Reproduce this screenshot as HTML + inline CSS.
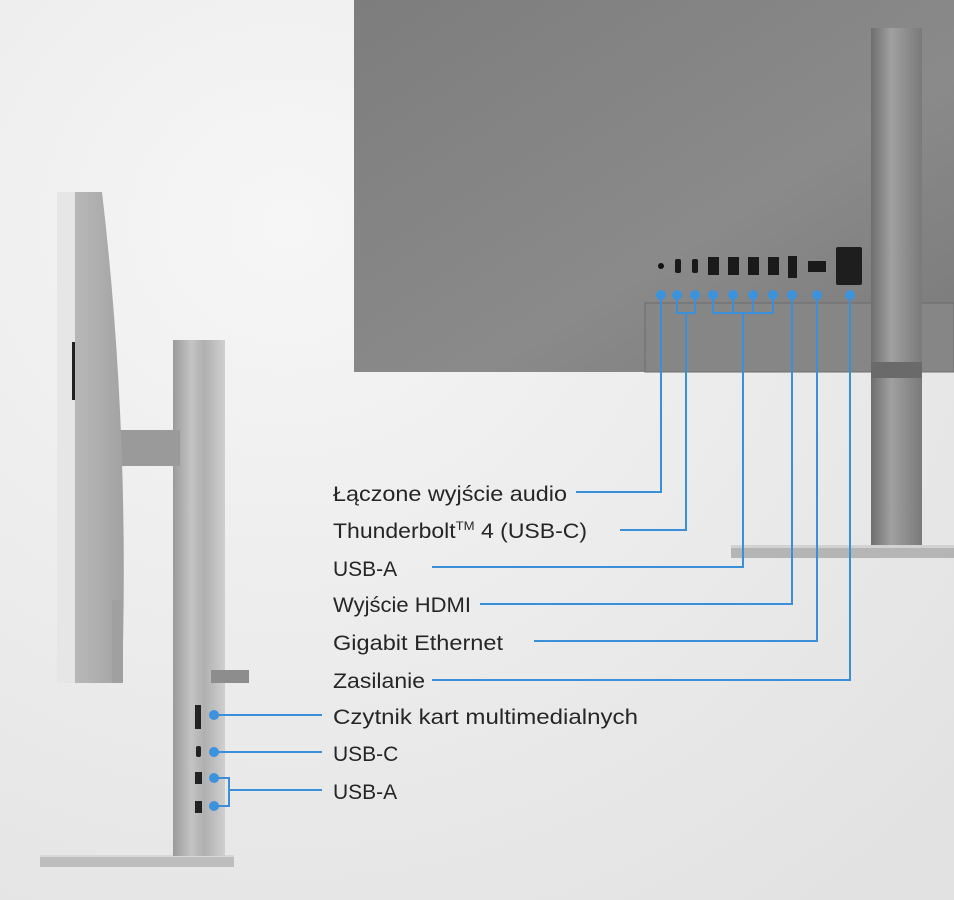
<!DOCTYPE html>
<html><head><meta charset="utf-8"><style>
html,body{margin:0;padding:0;width:954px;height:900px;overflow:hidden;background:#ececec}
svg{display:block}
text{font-family:"Liberation Sans",sans-serif;font-size:21px;fill:#262626}
</style></head><body>
<svg width="954" height="900" viewBox="0 0 954 900" xmlns="http://www.w3.org/2000/svg">
<defs>
<radialGradient id="bg" cx="0.3" cy="0.25" r="0.95"><stop offset="0" stop-color="#f6f6f6"/><stop offset="1" stop-color="#e2e2e2"/></radialGradient>
<linearGradient id="back" x1="0" y1="0" x2="1" y2="1"><stop offset="0" stop-color="#7d7d7d"/><stop offset="0.6" stop-color="#8a8a8a"/><stop offset="1" stop-color="#7a7a7a"/></linearGradient>
<linearGradient id="col" x1="0" x2="1"><stop offset="0" stop-color="#6f6f6f"/><stop offset="0.4" stop-color="#a0a0a0"/><stop offset="1" stop-color="#7a7a7a"/></linearGradient>
<linearGradient id="scol" x1="0" x2="1"><stop offset="0" stop-color="#9a9a9a"/><stop offset="0.35" stop-color="#c4c4c4"/><stop offset="0.6" stop-color="#b0b0b0"/><stop offset="1" stop-color="#cfcfcf"/></linearGradient>
<linearGradient id="panel" x1="0" x2="1"><stop offset="0" stop-color="#bdbdbd"/><stop offset="0.5" stop-color="#b2b2b2"/><stop offset="1" stop-color="#a2a2a2"/></linearGradient>
</defs>
<rect width="954" height="900" fill="url(#bg)"/>
<rect x="354" y="0" width="600" height="372" fill="url(#back)"/>
<rect x="645" y="303" width="309" height="69" fill="#868686" stroke="#6c6c6c" stroke-width="1"/>
<rect x="871" y="28" width="51" height="517" fill="url(#col)"/>
<rect x="871" y="362" width="51" height="16" fill="#6a6a6a"/>
<rect x="731" y="545" width="223" height="13" fill="#b5b5b5"/>
<rect x="731" y="545" width="223" height="3" fill="#d2d2d2"/>
<circle cx="661" cy="266" r="3" fill="#111"/>
<rect x="675" y="259" width="6" height="14" rx="2" fill="#1a1a1a"/>
<rect x="692" y="259" width="6" height="14" rx="2" fill="#1a1a1a"/>
<g fill="#1a1a1a"><rect x="708" y="257" width="11" height="18"/><rect x="728" y="257" width="11" height="18"/><rect x="748" y="257" width="11" height="18"/><rect x="768" y="257" width="11" height="18"/></g>
<path d="M788 256h9v22h-9z" fill="#1a1a1a"/>
<rect x="808" y="261" width="18" height="11" fill="#1a1a1a"/>
<rect x="836" y="247" width="26" height="38" rx="2" fill="#1e1e1e"/>
<g stroke="#3a8fd8" stroke-width="2" fill="none">
<path d="M661 295V492H576"/>
<path d="M677 295V313H695V295M686 313V530H620"/>
<path d="M713 295V313H773V295M733 295V313M753 295V313M743 313V567H432"/>
<path d="M792 295V604H480"/>
<path d="M817 295V641H534"/>
<path d="M850 295V680H432"/>
</g>
<g fill="#3d92dc"><circle cx="661" cy="295" r="5"/><circle cx="677" cy="295" r="5"/><circle cx="695" cy="295" r="5"/><circle cx="713" cy="295" r="5"/><circle cx="733" cy="295" r="5"/><circle cx="753" cy="295" r="5"/><circle cx="773" cy="295" r="5"/><circle cx="792" cy="295" r="5"/><circle cx="817" cy="295" r="5"/><circle cx="850" cy="295" r="5"/></g>
<rect x="40" y="855" width="194" height="12" fill="#bdbdbd"/>
<rect x="40" y="855" width="194" height="2" fill="#d8d8d8"/>
<rect x="173" y="340" width="52" height="516" fill="url(#scol)"/>
<rect x="120" y="430" width="60" height="36" fill="#9a9a9a"/>
<path d="M57 192H102Q130 430 122 683H57Z" fill="url(#panel)"/>
<path d="M112 600H123V683H112Z" fill="#a0a0a0"/>
<rect x="57" y="192" width="18" height="491" fill="#e6e6e6"/>
<rect x="72" y="342" width="3" height="58" fill="#222"/>
<rect x="211" y="670" width="38" height="13" fill="#8d8d8d"/>
<rect x="195" y="705" width="6" height="24" fill="#222"/>
<rect x="196" y="746" width="5" height="11" rx="2" fill="#222"/>
<rect x="195" y="772" width="7" height="12" fill="#222"/>
<rect x="195" y="801" width="7" height="12" fill="#222"/>
<g stroke="#3a8fd8" stroke-width="2" fill="none">
<path d="M214 715H322M214 752H322M214 778H229V806H214M229 790H322"/>
</g>
<g fill="#3d92dc"><circle cx="214" cy="715" r="5"/><circle cx="214" cy="752" r="5"/><circle cx="214" cy="778" r="5"/><circle cx="214" cy="806" r="5"/></g>
<text x="333" y="501" textLength="234" lengthAdjust="spacingAndGlyphs">Łączone wyjście audio</text>
<text x="333" y="538" textLength="254" lengthAdjust="spacingAndGlyphs">Thunderbolt<tspan font-size="12" dy="-8">TM</tspan><tspan dy="8"> 4 (USB-C)</tspan></text>
<text x="333" y="576">USB-A</text>
<text x="333" y="612" textLength="138" lengthAdjust="spacingAndGlyphs">Wyjście HDMI</text>
<text x="333" y="650" textLength="170" lengthAdjust="spacingAndGlyphs">Gigabit Ethernet</text>
<text x="333" y="688" textLength="92" lengthAdjust="spacingAndGlyphs">Zasilanie</text>
<text x="333" y="724" textLength="305" lengthAdjust="spacingAndGlyphs">Czytnik kart multimedialnych</text>
<text x="333" y="761">USB-C</text>
<text x="333" y="799">USB-A</text>
</svg>
</body></html>
